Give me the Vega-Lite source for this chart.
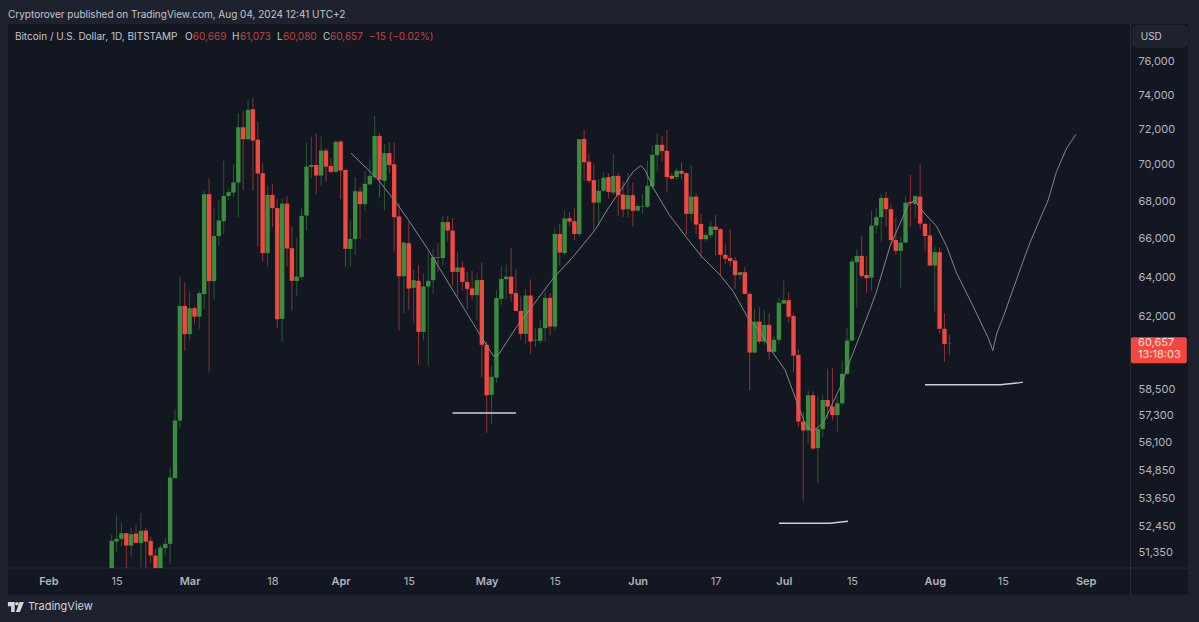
{
  "$schema": "https://vega.github.io/schema/vega-lite/v6.json",
  "width": 1180,
  "height": 571,
  "autosize": "none",
  "padding": {"left": 8, "top": 24, "right": 11, "bottom": 27},
  "background": "#1e222e",
  "view": {"fill": "#131722", "stroke": null},
  "config": {"font": "Inter"},
  "datasets": {
    "candles": [
      {"d":"2024-02-14","o":50690,"h":52050,"l":50690,"c":51803},
      {"d":"2024-02-15","o":51775,"h":52854,"l":51352,"c":51885},
      {"d":"2024-02-16","o":51885,"h":52570,"l":51570,"c":52122},
      {"d":"2024-02-17","o":52122,"h":52135,"l":50690,"c":51610},
      {"d":"2024-02-18","o":51610,"h":52346,"l":51160,"c":52080},
      {"d":"2024-02-19","o":52106,"h":52473,"l":51721,"c":51721},
      {"d":"2024-02-20","o":51709,"h":52968,"l":50737,"c":52219},
      {"d":"2024-02-21","o":52232,"h":52346,"l":50690,"c":51775},
      {"d":"2024-02-22","o":51803,"h":51980,"l":50901,"c":51200},
      {"d":"2024-02-23","o":51200,"h":51475,"l":50690,"c":50690},
      {"d":"2024-02-24","o":50690,"h":51639,"l":50690,"c":51529},
      {"d":"2024-02-25","o":51504,"h":51926,"l":51229,"c":51680},
      {"d":"2024-02-26","o":51680,"h":54931,"l":50860,"c":54491},
      {"d":"2024-02-27","o":54464,"h":57563,"l":54464,"c":57031},
      {"d":"2024-02-28","o":57031,"h":63975,"l":56699,"c":62498},
      {"d":"2024-02-29","o":62498,"h":63672,"l":60305,"c":61104},
      {"d":"2024-03-01","o":61104,"h":63219,"l":60792,"c":62382},
      {"d":"2024-03-02","o":62382,"h":62463,"l":61591,"c":61961},
      {"d":"2024-03-03","o":61961,"h":63254,"l":61362,"c":63138},
      {"d":"2024-03-04","o":63088,"h":68529,"l":62347,"c":68330},
      {"d":"2024-03-05","o":68330,"h":69174,"l":59259,"c":63743},
      {"d":"2024-03-06","o":63743,"h":67603,"l":62800,"c":66086},
      {"d":"2024-03-07","o":66086,"h":68017,"l":65565,"c":66907},
      {"d":"2024-03-08","o":66874,"h":70169,"l":66193,"c":68237},
      {"d":"2024-03-09","o":68237,"h":68639,"l":68017,"c":68441},
      {"d":"2024-03-10","o":68419,"h":69983,"l":68165,"c":68970},
      {"d":"2024-03-11","o":68970,"h":72898,"l":67089,"c":72082},
      {"d":"2024-03-12","o":72082,"h":73032,"l":68567,"c":71399},
      {"d":"2024-03-13","o":71399,"h":73674,"l":71320,"c":73091},
      {"d":"2024-03-14","o":73131,"h":73773,"l":68529,"c":71321},
      {"d":"2024-03-15","o":71377,"h":72391,"l":65529,"c":69466},
      {"d":"2024-03-16","o":69488,"h":70040,"l":64736,"c":65187},
      {"d":"2024-03-17","o":65187,"h":68804,"l":64493,"c":68292},
      {"d":"2024-03-18","o":68292,"h":68882,"l":66552,"c":67571},
      {"d":"2024-03-19","o":67571,"h":68072,"l":61396,"c":61834},
      {"d":"2024-03-20","o":61849,"h":68110,"l":60714,"c":67818},
      {"d":"2024-03-21","o":67818,"h":68237,"l":64493,"c":65425},
      {"d":"2024-03-22","o":65446,"h":66584,"l":62261,"c":63758},
      {"d":"2024-03-23","o":63758,"h":65995,"l":63002,"c":63975},
      {"d":"2024-03-24","o":63960,"h":67571,"l":63808,"c":67158},
      {"d":"2024-03-25","o":67175,"h":71172,"l":66370,"c":69851},
      {"d":"2024-03-26","o":69835,"h":71546,"l":69212,"c":69945},
      {"d":"2024-03-27","o":69945,"h":71739,"l":68330,"c":69355},
      {"d":"2024-03-28","o":69355,"h":71546,"l":68788,"c":70754},
      {"d":"2024-03-29","o":70754,"h":70890,"l":69025,"c":69851},
      {"d":"2024-03-30","o":69890,"h":70323,"l":69488,"c":69559},
      {"d":"2024-03-31","o":69559,"h":71359,"l":69521,"c":71246},
      {"d":"2024-04-01","o":71263,"h":71320,"l":68055,"c":69631},
      {"d":"2024-04-02","o":69669,"h":69669,"l":64493,"c":65409},
      {"d":"2024-04-03","o":65409,"h":66907,"l":64493,"c":65927},
      {"d":"2024-04-04","o":65927,"h":69267,"l":65099,"c":68496},
      {"d":"2024-04-05","o":68474,"h":68716,"l":65927,"c":67786},
      {"d":"2024-04-06","o":67786,"h":69614,"l":67443,"c":68898},
      {"d":"2024-04-07","o":68865,"h":70266,"l":68832,"c":69339},
      {"d":"2024-04-08","o":69267,"h":72741,"l":69118,"c":71586},
      {"d":"2024-04-09","o":71586,"h":71739,"l":68165,"c":69118},
      {"d":"2024-04-10","o":69063,"h":71117,"l":67443,"c":70607},
      {"d":"2024-04-11","o":70607,"h":71229,"l":69488,"c":69945},
      {"d":"2024-04-12","o":69983,"h":71207,"l":65218,"c":67089},
      {"d":"2024-04-13","o":67121,"h":67839,"l":61279,"c":63995},
      {"d":"2024-04-14","o":63995,"h":65788,"l":62131,"c":65736},
      {"d":"2024-04-15","o":65705,"h":66852,"l":62297,"c":63370},
      {"d":"2024-04-16","o":63405,"h":64321,"l":61606,"c":63793},
      {"d":"2024-04-17","o":63758,"h":64581,"l":59622,"c":61216},
      {"d":"2024-04-18","o":61216,"h":64150,"l":60792,"c":63471},
      {"d":"2024-04-19","o":63471,"h":65239,"l":59589,"c":63758},
      {"d":"2024-04-20","o":63793,"h":65409,"l":63088,"c":64979},
      {"d":"2024-04-21","o":64979,"h":65705,"l":64233,"c":64943},
      {"d":"2024-04-22","o":64928,"h":67175,"l":64529,"c":66820},
      {"d":"2024-04-23","o":66820,"h":67158,"l":65788,"c":66370},
      {"d":"2024-04-24","o":66370,"h":67035,"l":63521,"c":64218},
      {"d":"2024-04-25","o":64218,"h":65218,"l":62967,"c":64441},
      {"d":"2024-04-26","o":64441,"h":64752,"l":63254,"c":63708},
      {"d":"2024-04-27","o":63708,"h":64233,"l":62347,"c":63355},
      {"d":"2024-04-28","o":63370,"h":64269,"l":62800,"c":63037},
      {"d":"2024-04-29","o":63037,"h":64150,"l":61766,"c":63793},
      {"d":"2024-04-30","o":63808,"h":64700,"l":59042,"c":60583},
      {"d":"2024-05-01","o":60583,"h":60744,"l":56471,"c":58192},
      {"d":"2024-05-02","o":58208,"h":59575,"l":56881,"c":59056},
      {"d":"2024-05-03","o":59023,"h":63304,"l":58760,"c":62886},
      {"d":"2024-05-04","o":62851,"h":64493,"l":62529,"c":63859},
      {"d":"2024-05-05","o":63844,"h":64581,"l":62800,"c":63975},
      {"d":"2024-05-06","o":63975,"h":65446,"l":62715,"c":63103},
      {"d":"2024-05-07","o":63138,"h":64373,"l":62247,"c":62247},
      {"d":"2024-05-08","o":62247,"h":62967,"l":60831,"c":61119},
      {"d":"2024-05-09","o":61119,"h":63340,"l":60634,"c":63017},
      {"d":"2024-05-10","o":63017,"h":63844,"l":60130,"c":60744},
      {"d":"2024-05-11","o":60797,"h":61396,"l":60472,"c":60831},
      {"d":"2024-05-12","o":60782,"h":61800,"l":60634,"c":61396},
      {"d":"2024-05-13","o":61396,"h":63219,"l":60744,"c":62901},
      {"d":"2024-05-14","o":62901,"h":63138,"l":61070,"c":61474},
      {"d":"2024-05-15","o":61474,"h":66494,"l":61279,"c":66193},
      {"d":"2024-05-16","o":66193,"h":66729,"l":64544,"c":65218},
      {"d":"2024-05-17","o":65187,"h":67443,"l":65099,"c":67014},
      {"d":"2024-05-18","o":67035,"h":67357,"l":66622,"c":66852},
      {"d":"2024-05-19","o":66874,"h":67571,"l":65876,"c":66193},
      {"d":"2024-05-20","o":66193,"h":71399,"l":66048,"c":71399},
      {"d":"2024-05-21","o":71416,"h":71926,"l":69063,"c":70096},
      {"d":"2024-05-22","o":70130,"h":70607,"l":68936,"c":69063},
      {"d":"2024-05-23","o":69102,"h":69983,"l":66370,"c":67871},
      {"d":"2024-05-24","o":67871,"h":69157,"l":66585,"c":68512},
      {"d":"2024-05-25","o":68512,"h":69543,"l":68474,"c":69229},
      {"d":"2024-05-26","o":69267,"h":69488,"l":68110,"c":68457},
      {"d":"2024-05-27","o":68419,"h":70567,"l":68292,"c":69339},
      {"d":"2024-05-28","o":69339,"h":69521,"l":67158,"c":68276},
      {"d":"2024-05-29","o":68309,"h":69025,"l":67089,"c":67496},
      {"d":"2024-05-30","o":67518,"h":69488,"l":67089,"c":68276},
      {"d":"2024-05-31","o":68276,"h":68970,"l":66585,"c":67426},
      {"d":"2024-06-01","o":67443,"h":67786,"l":67389,"c":67694},
      {"d":"2024-06-02","o":67657,"h":68347,"l":67266,"c":67694},
      {"d":"2024-06-03","o":67657,"h":70187,"l":67571,"c":68788},
      {"d":"2024-06-04","o":68749,"h":71021,"l":68606,"c":70510},
      {"d":"2024-06-05","o":70493,"h":71739,"l":69576,"c":71077},
      {"d":"2024-06-06","o":71077,"h":71603,"l":70130,"c":70720},
      {"d":"2024-06-07","o":70737,"h":71926,"l":68419,"c":69267},
      {"d":"2024-06-08","o":69339,"h":69504,"l":69118,"c":69174},
      {"d":"2024-06-09","o":69267,"h":69763,"l":69118,"c":69614},
      {"d":"2024-06-10","o":69614,"h":70096,"l":69157,"c":69449},
      {"d":"2024-06-11","o":69488,"h":69543,"l":66139,"c":67266},
      {"d":"2024-06-12","o":67266,"h":69945,"l":66852,"c":68198},
      {"d":"2024-06-13","o":68198,"h":68386,"l":66193,"c":66692},
      {"d":"2024-06-14","o":66729,"h":67266,"l":64928,"c":65912},
      {"d":"2024-06-15","o":65912,"h":66263,"l":65788,"c":66139},
      {"d":"2024-06-16","o":66123,"h":66890,"l":65964,"c":66585},
      {"d":"2024-06-17","o":66585,"h":67212,"l":65062,"c":66408},
      {"d":"2024-06-18","o":66445,"h":66499,"l":64010,"c":65099},
      {"d":"2024-06-19","o":65099,"h":65668,"l":64632,"c":64892},
      {"d":"2024-06-20","o":64928,"h":66445,"l":64529,"c":64772},
      {"d":"2024-06-21","o":64803,"h":64979,"l":63355,"c":64047},
      {"d":"2024-06-22","o":64062,"h":64233,"l":63844,"c":64202},
      {"d":"2024-06-23","o":64202,"h":64462,"l":63053,"c":63103},
      {"d":"2024-06-24","o":63103,"h":63168,"l":58411,"c":60209},
      {"d":"2024-06-25","o":60209,"h":62347,"l":60180,"c":61718},
      {"d":"2024-06-26","o":61718,"h":62413,"l":60634,"c":60744},
      {"d":"2024-06-27","o":60744,"h":62297,"l":60583,"c":61557},
      {"d":"2024-06-28","o":61557,"h":62131,"l":59858,"c":60244},
      {"d":"2024-06-29","o":60244,"h":61036,"l":60209,"c":60831},
      {"d":"2024-06-30","o":60831,"h":62916,"l":60634,"c":62650},
      {"d":"2024-07-01","o":62614,"h":63773,"l":62584,"c":62785},
      {"d":"2024-07-02","o":62785,"h":63189,"l":61688,"c":61961},
      {"d":"2024-07-03","o":61995,"h":62131,"l":59278,"c":60063},
      {"d":"2024-07-04","o":60097,"h":60375,"l":56731,"c":56985},
      {"d":"2024-07-05","o":56985,"h":57440,"l":53500,"c":56578},
      {"d":"2024-07-06","o":56578,"h":58411,"l":55974,"c":58194},
      {"d":"2024-07-07","o":58194,"h":58363,"l":55710,"c":55767},
      {"d":"2024-07-08","o":55784,"h":58175,"l":54246,"c":56655},
      {"d":"2024-07-09","o":56640,"h":58208,"l":56278,"c":57973},
      {"d":"2024-07-10","o":57973,"h":59429,"l":57095,"c":57668},
      {"d":"2024-07-11","o":57668,"h":59467,"l":57031,"c":57277},
      {"d":"2024-07-12","o":57277,"h":58127,"l":56532,"c":57823},
      {"d":"2024-07-13","o":57823,"h":59811,"l":57745,"c":59198},
      {"d":"2024-07-14","o":59198,"h":61396,"l":59150,"c":60792},
      {"d":"2024-07-15","o":60792,"h":64928,"l":60744,"c":64752},
      {"d":"2024-07-16","o":64721,"h":65358,"l":62398,"c":65047},
      {"d":"2024-07-17","o":65047,"h":66086,"l":63894,"c":64010},
      {"d":"2024-07-18","o":64062,"h":65047,"l":63168,"c":63894},
      {"d":"2024-07-19","o":63924,"h":67426,"l":63254,"c":66638},
      {"d":"2024-07-20","o":66638,"h":67571,"l":66231,"c":67089},
      {"d":"2024-07-21","o":67089,"h":68330,"l":65788,"c":68127},
      {"d":"2024-07-22","o":68127,"h":68441,"l":66552,"c":67518},
      {"d":"2024-07-23","o":67518,"h":67748,"l":65617,"c":65876},
      {"d":"2024-07-24","o":65876,"h":67035,"l":65099,"c":65306},
      {"d":"2024-07-25","o":65306,"h":66048,"l":63420,"c":65736},
      {"d":"2024-07-26","o":65736,"h":68198,"l":65705,"c":67871},
      {"d":"2024-07-27","o":67909,"h":69394,"l":66585,"c":67855},
      {"d":"2024-07-28","o":67802,"h":68237,"l":67035,"c":68237},
      {"d":"2024-07-29","o":68198,"h":70000,"l":66461,"c":66746},
      {"d":"2024-07-30","o":66729,"h":66767,"l":65270,"c":66086},
      {"d":"2024-07-31","o":66123,"h":66767,"l":64529,"c":64544},
      {"d":"2024-08-01","o":64544,"h":65529,"l":62212,"c":65239},
      {"d":"2024-08-02","o":65239,"h":65498,"l":61153,"c":61362},
      {"d":"2024-08-03","o":61362,"h":62131,"l":59778,"c":60618},
      {"d":"2024-08-04","o":60669,"h":61073,"l":60080,"c":60657}
    ],
    "drawn": [
      {"s":"path","d":"2024-04-03T03:00:00Z","p":70605},
      {"s":"path","d":"2024-04-08T18:00:00Z","p":69118},
      {"s":"path","d":"2024-04-12T12:00:00Z","p":67839},
      {"s":"path","d":"2024-04-14T22:00:00Z","p":66944},
      {"s":"path","d":"2024-04-19T00:00:00Z","p":65358},
      {"s":"path","d":"2024-04-25T01:00:00Z","p":62886},
      {"s":"path","d":"2024-04-29T15:00:00Z","p":61070},
      {"s":"path","d":"2024-05-02T09:00:00Z","p":60047},
      {"s":"path","d":"2024-05-03T09:00:00Z","p":60097},
      {"s":"path","d":"2024-05-07T04:00:00Z","p":61474},
      {"s":"path","d":"2024-05-10T14:00:00Z","p":62548},
      {"s":"path","d":"2024-05-14T16:00:00Z","p":63894},
      {"s":"path","d":"2024-05-18T19:00:00Z","p":65011},
      {"s":"path","d":"2024-05-23T06:00:00Z","p":66408},
      {"s":"path","d":"2024-05-26T00:00:00Z","p":67587},
      {"s":"path","d":"2024-05-29T01:00:00Z","p":68749},
      {"s":"path","d":"2024-05-31T02:00:00Z","p":69576},
      {"s":"path","d":"2024-06-01T15:00:00Z","p":69906},
      {"s":"path","d":"2024-06-02T12:00:00Z","p":69669},
      {"s":"path","d":"2024-06-04T05:00:00Z","p":68661},
      {"s":"path","d":"2024-06-07T12:00:00Z","p":67212},
      {"s":"path","d":"2024-06-11T00:00:00Z","p":66016},
      {"s":"path","d":"2024-06-14T03:00:00Z","p":65011},
      {"s":"path","d":"2024-06-17T22:00:00Z","p":64062},
      {"s":"path","d":"2024-06-20T15:00:00Z","p":63219},
      {"s":"path","d":"2024-06-23T12:00:00Z","p":61961},
      {"s":"path","d":"2024-06-26T02:00:00Z","p":61231},
      {"s":"path","d":"2024-06-28T20:00:00Z","p":60180},
      {"s":"path","d":"2024-07-01T06:00:00Z","p":59386},
      {"s":"path","d":"2024-07-03T16:00:00Z","p":57895},
      {"s":"path","d":"2024-07-05T08:00:00Z","p":56912},
      {"s":"path","d":"2024-07-06T19:00:00Z","p":56519},
      {"s":"path","d":"2024-07-09T02:00:00Z","p":56912},
      {"s":"path","d":"2024-07-12T12:00:00Z","p":58523},
      {"s":"path","d":"2024-07-14T13:00:00Z","p":59778},
      {"s":"path","d":"2024-07-18T16:00:00Z","p":62297},
      {"s":"path","d":"2024-07-20T01:00:00Z","p":63219},
      {"s":"path","d":"2024-07-22T19:00:00Z","p":65529},
      {"s":"path","d":"2024-07-26T13:00:00Z","p":67748},
      {"s":"path","d":"2024-07-27T22:00:00Z","p":68017},
      {"s":"path","d":"2024-07-28T22:00:00Z","p":67571},
      {"s":"path","d":"2024-08-01T10:00:00Z","p":66585},
      {"s":"path","d":"2024-08-03T11:00:00Z","p":65529},
      {"s":"path","d":"2024-08-05T12:00:00Z","p":64150},
      {"s":"path","d":"2024-08-08T22:00:00Z","p":62463},
      {"s":"path","d":"2024-08-12T00:00:00Z","p":60909},
      {"s":"path","d":"2024-08-12T22:00:00Z","p":60307},
      {"s":"path","d":"2024-08-13T18:00:00Z","p":61153},
      {"s":"path","d":"2024-08-15T02:00:00Z","p":61961},
      {"s":"path","d":"2024-08-18T12:00:00Z","p":64322},
      {"s":"path","d":"2024-08-20T12:00:00Z","p":65705},
      {"s":"path","d":"2024-08-24T07:00:00Z","p":68017},
      {"s":"path","d":"2024-08-26T00:00:00Z","p":69576},
      {"s":"path","d":"2024-08-28T02:00:00Z","p":70890},
      {"s":"path","d":"2024-08-30T00:00:00Z","p":71682}
    ],
    "levels": [
      {"s":"may","d":"2024-04-23T23:00:00Z","p":57368},
      {"s":"may","d":"2024-05-07T00:00:00Z","p":57368},
      {"s":"jul","d":"2024-06-30T00:00:00Z","p":52536},
      {"s":"jul","d":"2024-07-10T12:00:00Z","p":52536},
      {"s":"jul","d":"2024-07-14T04:00:00Z","p":52621},
      {"s":"aug","d":"2024-07-30T00:00:00Z","p":58678},
      {"s":"aug","d":"2024-08-14T10:00:00Z","p":58678},
      {"s":"aug","d":"2024-08-17T21:00:00Z","p":58759},
      {"s":"aug","d":"2024-08-19T02:00:00Z","p":58806}
    ],
    "header": [
      {"d":"2024-01-25T03:00:00Z","p":77471,"t":"Bitcoin / U.S. Dollar, 1D, BITSTAMP","kind":"label"},
      {"d":"2024-02-29T01:00:00Z","p":77471,"t":"O","kind":"label"},
      {"d":"2024-03-01T16:00:00Z","p":77471,"t":"60,669","kind":"value"},
      {"d":"2024-03-09T17:00:00Z","p":77471,"t":"H","kind":"label"},
      {"d":"2024-03-11T08:00:00Z","p":77471,"t":"61,073","kind":"value"},
      {"d":"2024-03-18T23:00:00Z","p":77471,"t":"L","kind":"label"},
      {"d":"2024-03-20T04:00:00Z","p":77471,"t":"60,080","kind":"value"},
      {"d":"2024-03-28T09:00:00Z","p":77471,"t":"C","kind":"label"},
      {"d":"2024-03-29T20:00:00Z","p":77471,"t":"60,657","kind":"value"},
      {"d":"2024-04-06T20:00:00Z","p":77471,"t":"−15 (−0.02%)","kind":"value"},
      {"d":"2024-09-12T07:00:00Z","p":77471,"t":"USD","kind":"label"},
      {"d":"2024-01-23T17:00:00Z","p":78845,"t":"Cryptorover published on TradingView.com, Aug 04, 2024 12:41 UTC+2","kind":"label"}
    ]
  },
  "encoding": {
    "x": {
      "field": "d",
      "type": "temporal",
      "title": null,
      "scale": {"type": "utc", "domain": [1706029200000, 1726963200000]},
      "axis": {
        "orient": "bottom",
        "values": [1706745600000, 1707955200000, 1709251200000, 1710720000000, 1711929600000, 1713139200000, 1714521600000, 1715731200000, 1717200000000, 1718582400000, 1719792000000, 1721001600000, 1722470400000, 1723680000000, 1725148800000],
        "labelExpr": "utcdate(datum.value) == 1 ? utcFormat(datum.value, '%b') : utcFormat(datum.value, '%-d')",
        "domain": false,
        "ticks": false,
        "grid": false,
        "labelPadding": -20,
        "labelFontSize": 11,
        "labelColor": "#b2b5be",
        "labelFlush": false,
        "labelOverlap": false,
        "labelFontWeight": {"condition": {"test": "utcdate(datum.value) == 1", "value": 600}, "value": 400}
      }
    }
  },
  "layer": [
    {
      "data": {"values": [{"d": "2024-09-10T05:00:00Z"}]},
      "mark": {"type": "rule", "color": "#2a2e39", "strokeWidth": 1},
      "encoding": {"y": {"value": 0}, "y2": {"value": 571}}
    },
    {
      "data": {"values": [{"d": "2024-01-23T17:00:00Z", "d2": "2024-09-22T00:00:00Z", "p": 50690}]},
      "mark": {"type": "rule", "color": "#2a2e39", "strokeWidth": 1},
      "encoding": {
        "x2": {"field": "d2"},
        "y": {"field": "p", "type": "quantitative", "title": null, "scale": {"type": "log", "domain": [49611, 78279], "nice": false}}
      }
    },
    {
      "data": {"name": "candles"},
      "mark": {"type": "rule", "strokeWidth": 1, "opacity": 0.55},
      "encoding": {
        "y": {
          "field": "l",
          "type": "quantitative",
          "title": null,
          "scale": {"type": "log", "domain": [49611, 78279], "nice": false},
          "axis": {
            "orient": "right",
            "values": [76000, 74000, 72000, 70000, 68000, 66000, 64000, 62000, 58500, 57300, 56100, 54850, 53650, 52450, 51350],
            "format": ",",
            "domain": false,
            "ticks": false,
            "grid": false,
            "labelAlign": "left",
            "labelPadding": -50,
            "labelOffset": 1,
            "labelFontSize": 11,
            "labelColor": "#b2b5be"
          }
        },
        "y2": {"field": "h"},
        "color": {"condition": {"test": "datum.c >= datum.o", "value": "#388e3c"}, "value": "#f1483f"}
      }
    },
    {
      "data": {"name": "candles"},
      "mark": {"type": "rule", "strokeWidth": 4.4},
      "encoding": {
        "y": {"field": "o", "type": "quantitative", "title": null, "scale": {"type": "log", "domain": [49611, 78279], "nice": false}},
        "y2": {"field": "c"},
        "color": {"condition": {"test": "datum.c >= datum.o", "value": "#388e3c"}, "value": "#f1483f"}
      }
    },
    {
      "data": {"name": "drawn"},
      "mark": {"type": "line", "color": "#83868e", "strokeWidth": 1},
      "encoding": {
        "y": {"field": "p", "type": "quantitative", "title": null, "scale": {"type": "log", "domain": [49611, 78279], "nice": false}},
        "detail": {"field": "s"}
      }
    },
    {
      "data": {"name": "levels"},
      "mark": {"type": "line", "color": "#cfd1d6", "strokeWidth": 1.5},
      "encoding": {
        "y": {"field": "p", "type": "quantitative", "title": null, "scale": {"type": "log", "domain": [49611, 78279], "nice": false}},
        "detail": {"field": "s"}
      }
    },
    {
      "data": {"values": [{"d": "2024-09-10T17:00:00Z", "d2": "2024-09-21T19:00:00Z", "p": 78155, "p2": 76855}]},
      "mark": {"type": "rect", "fill": "#1e222e", "stroke": "#2a2e39", "cornerRadius": 4},
      "encoding": {
        "x2": {"field": "d2"},
        "y": {"field": "p", "type": "quantitative", "title": null, "scale": {"type": "log", "domain": [49611, 78279], "nice": false}},
        "y2": {"field": "p2"}
      }
    },
    {
      "data": {"values": [{"d": "2024-09-10T07:00:00Z", "d2": "2024-09-21T18:00:00Z", "p": 60949, "p2": 59696}]},
      "mark": {"type": "rect", "fill": "#f6463d", "cornerRadius": 2},
      "encoding": {
        "x2": {"field": "d2"},
        "y": {"field": "p", "type": "quantitative", "title": null, "scale": {"type": "log", "domain": [49611, 78279], "nice": false}},
        "y2": {"field": "p2"}
      }
    },
    {
      "data": {"values": [
        {"d": "2024-09-11T18:00:00Z", "p": 60657, "t": "60,657"},
        {"d": "2024-09-11T18:00:00Z", "p": 60093, "t": "13:18:03"}
      ]},
      "mark": {"type": "text", "align": "left", "baseline": "middle", "fontSize": 11, "color": "#ffe3de"},
      "encoding": {
        "y": {"field": "p", "type": "quantitative", "title": null, "scale": {"type": "log", "domain": [49611, 78279], "nice": false}},
        "text": {"field": "t"}
      }
    },
    {
      "data": {"name": "header"},
      "mark": {"type": "text", "align": "left", "baseline": "middle", "fontSize": 10},
      "encoding": {
        "y": {"field": "p", "type": "quantitative", "title": null, "scale": {"type": "log", "domain": [49611, 78279], "nice": false}},
        "text": {"field": "t"},
        "color": {"field": "kind", "type": "nominal", "legend": null, "scale": {"domain": ["label", "value"], "range": ["#c3c6ce", "#c8413f"]}}
      }
    },
    {
      "data": {"values": [{"d": "2024-01-25T08:00:00Z", "p": 49139}]},
      "mark": {"type": "point", "filled": true, "opacity": 1, "color": "#d1d4dc", "size": 256, "shape": "M-1,-0.62 H-0.15 V0.62 H-0.6 V-0.1 H-1 Z M0.12,-0.62 a0.22,0.22 0 1,0 0.001,0 Z M0.45,-0.62 H1 L0.5,0.62 H0 Z"},
      "encoding": {
        "y": {"field": "p", "type": "quantitative", "title": null, "scale": {"type": "log", "domain": [49611, 78279], "nice": false}}
      }
    },
    {
      "data": {"values": [{"d": "2024-01-27T19:00:00Z", "p": 49139, "t": "TradingView"}]},
      "mark": {"type": "text", "align": "left", "baseline": "middle", "fontSize": 11, "color": "#d1d4dc"},
      "encoding": {
        "y": {"field": "p", "type": "quantitative", "title": null, "scale": {"type": "log", "domain": [49611, 78279], "nice": false}},
        "text": {"field": "t"}
      }
    }
  ]
}
